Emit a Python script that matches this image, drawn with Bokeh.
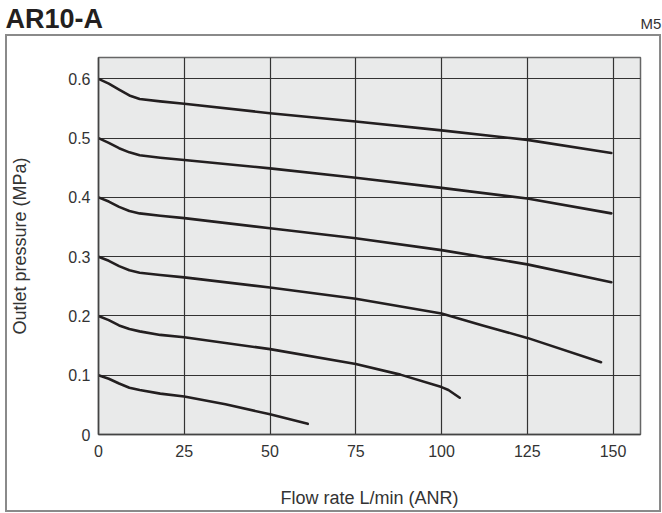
from bokeh.plotting import figure
from bokeh.models import Range1d, FixedTicker, Title
from bokeh.layouts import column, row
from bokeh.embed import file_html
from bokeh.resources import INLINE

# ---- data ----
x_ticks = [0, 25, 50, 75, 100, 125, 150]
x_tick_labels = ["0", "25", "50", "75", "100", "125", "150"]
y_ticks = [0, 0.1, 0.2, 0.3, 0.4, 0.5, 0.6]
y_tick_labels = ["0", "0.1", "0.2", "0.3", "0.4", "0.5", "0.6"]

set06_x = [0, 3, 6, 9, 12, 18, 25, 50, 75, 100, 125, 149.5]
set06_y = [0.600, 0.592, 0.582, 0.572, 0.566, 0.562, 0.558, 0.542, 0.528, 0.513, 0.497, 0.475]

set05_x = [0, 3, 6, 9, 12, 18, 25, 50, 75, 100, 125, 149.5]
set05_y = [0.500, 0.492, 0.483, 0.476, 0.471, 0.467, 0.463, 0.449, 0.433, 0.416, 0.398, 0.373]

set04_x = [0, 3, 6, 9, 12, 18, 25, 50, 75, 100, 125, 149.5]
set04_y = [0.400, 0.393, 0.384, 0.377, 0.373, 0.369, 0.365, 0.348, 0.331, 0.311, 0.287, 0.257]

set03_x = [0, 3, 6, 9, 12, 18, 25, 50, 75, 100, 112, 125, 146.5]
set03_y = [0.300, 0.293, 0.284, 0.277, 0.273, 0.269, 0.265, 0.248, 0.229, 0.204, 0.184, 0.163, 0.122]

set02_x = [0, 3, 6, 9, 12, 18, 25, 50, 75, 88, 100, 102, 105.3]
set02_y = [0.200, 0.193, 0.184, 0.178, 0.174, 0.168, 0.164, 0.144, 0.119, 0.101, 0.080, 0.075, 0.062]

set01_x = [0, 3, 6, 9, 12, 18, 25, 37, 50, 61]
set01_y = [0.100, 0.094, 0.086, 0.079, 0.075, 0.069, 0.064, 0.051, 0.034, 0.018]

curves = [(set06_x, set06_y), (set05_x, set05_y), (set04_x, set04_y),
          (set03_x, set03_y), (set02_x, set02_y), (set01_x, set01_y)]

title_text = "AR10-A"
port_text = "M5"
x_title = "Flow rate L/min (ANR)"
y_title = "Outlet pressure (MPa)"

FONT = "Liberation Sans"
INK = "#231f20"


def header(width, text, size, bold, offset, standoff, color):
    h = figure(width=width, height=36, output_backend="svg", toolbar_location=None,
               x_range=Range1d(0, 1), y_range=Range1d(0, 1),
               x_axis_type=None, y_axis_type=None,
               min_border_left=0, min_border_right=0, min_border_top=32, min_border_bottom=0)
    h.outline_line_color = None
    h.background_fill_color = "white"
    h.border_fill_color = "white"
    h.grid.visible = False
    h.title = Title(text=text, align="left", offset=offset, standoff=standoff,
                    text_font=FONT, text_font_size=size,
                    text_font_style="bold" if bold else "normal", text_color=color)
    return h


head_left = header(562, title_text, "27px", True, 5, 3, INK)
head_right = header(100, port_text, "15px", False, 78, 8, "#333333")

# ---- main chart ----
p = figure(width=652, height=474, output_backend="svg", toolbar_location=None,
           x_range=Range1d(0, 158), y_range=Range1d(0, 0.636),
           min_border_left=90, min_border_right=19, min_border_top=21, min_border_bottom=76,
           margin=(0, 0, 0, 7))
p.styles = {"outline": "2px solid #8a8a8a"}

p.background_fill_color = "#e9eaea"
p.border_fill_color = "white"
p.outline_line_color = "#666666"
p.outline_line_width = 1.5

for xs, ys in curves:
    p.line(xs, ys, line_color=INK, line_width=2.6, line_join="round", line_cap="round")

p.xaxis.ticker = FixedTicker(ticks=x_ticks)
p.yaxis.ticker = FixedTicker(ticks=y_ticks)
p.xaxis.major_label_overrides = dict(zip(x_ticks, x_tick_labels))
p.yaxis.major_label_overrides = dict(zip(y_ticks, y_tick_labels))
p.xgrid.ticker = FixedTicker(ticks=x_ticks)
p.ygrid.ticker = FixedTicker(ticks=y_ticks)
for g in (p.xgrid, p.ygrid):
    g.grid_line_color = "#333333"
    g.grid_line_width = 1.2

for ax in (p.xaxis, p.yaxis):
    ax.axis_line_color = "#444444"
    ax.axis_line_width = 1.5
    ax.major_tick_line_color = None
    ax.minor_tick_line_color = None
    ax.major_tick_out = 0
    ax.major_tick_in = 0
    ax.major_label_text_font = FONT
    ax.major_label_text_font_size = "16px"
    ax.major_label_text_color = "#333333"
    ax.axis_label_text_font = FONT
    ax.axis_label_text_font_size = "18px"
    ax.axis_label_text_font_style = "normal"
    ax.axis_label_text_color = "#333333"

p.xaxis.axis_label = x_title
p.yaxis.axis_label = y_title
p.xaxis.major_label_standoff = 10
p.xaxis.axis_label_standoff = 28
p.yaxis.major_label_standoff = 8
p.yaxis.axis_label_standoff = 35

layout = column(row(head_left, head_right, spacing=0), p, spacing=0)
open("out.html", "w").write(file_html(layout, INLINE))
